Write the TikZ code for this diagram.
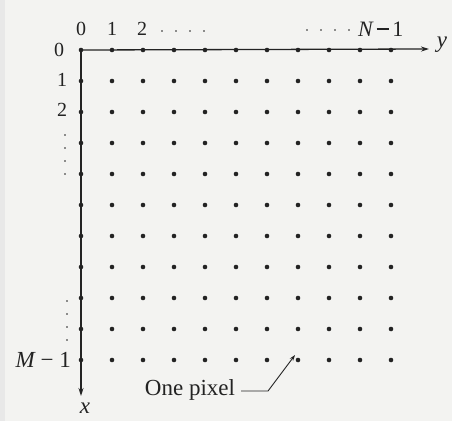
\documentclass[tikz,border=0pt]{standalone}
\usepackage{fontspec}
\setmainfont{Liberation Serif}
\usetikzlibrary{arrows.meta}
\definecolor{paper}{RGB}{243,243,241}
\definecolor{ink}{RGB}{35,35,35}
\tikzset{
  pix/.style={circle,fill=ink,inner sep=0pt,minimum size=4.6pt},
  lab/.style={text=ink,inner sep=0pt,font=\fontsize{20}{22}\selectfont},
  txt/.style={text=ink,inner sep=0pt,font=\fontsize{23}{25}\selectfont},
  axis/.style={draw=ink,line width=1.3pt,-{Stealth[length=8pt,width=5pt]}},
  edot/.style={circle,fill=ink,inner sep=0pt,minimum size=1.9pt}
}
\begin{document}
\begin{tikzpicture}[x=1pt,y=-1pt]
\fill[paper] (0,0) rectangle (452,421);
\fill[black!9] (0,0) rectangle (5,421);
\useasboundingbox (0,0) rectangle (452,421);
\coordinate (o) at (81,50);
\coordinate (yend) at (429,49);
\coordinate (xend) at (81,396);
\draw[axis] (o) -- (yend);
\draw[axis] (o) -- (xend);
\node[txt,font=\fontsize{23}{25}\selectfont\itshape] (ylab) at (442,45) {y};
\node[txt,font=\fontsize{23}{25}\selectfont\itshape] (xlab) at (85,408) {x};
\foreach \i in {0,...,10}{
  \foreach \j in {0,...,10}{
    \node[pix] (d-\i-\j) at ({81+31*\j},{50+31*\i}) {};
  }
}
% top labels
\node[lab] (t0) at (81,29) {0};
\node[lab] (t1) at (112,29) {1};
\node[lab] (t2) at (142,29) {2};
\foreach \k/\xx in {1/162,2/176,3/190,4/204}{\node[edot] (ta\k) at (\xx,31) {};}
\foreach \k/\xx in {1/307,2/321,3/335,4/349}{\node[edot] (tb\k) at (\xx,30) {};}
\node[lab,anchor=west,font=\fontsize{22}{24}\selectfont] (tN) at (358,29) {\itshape N\upshape\,\rule[0.27em]{0.55em}{0.1em}\,1};
% left labels
\node[lab] (l0) at (59,50) {0};
\node[lab] (l1) at (62,80) {1};
\node[lab] (l2) at (62,110) {2};
\foreach \k/\yy in {1/135,2/148,3/161,4/174}{\node[edot] (la\k) at (65,\yy) {};}
\foreach \k/\yy in {1/301,2/314,3/327,4/340}{\node[edot] (lb\k) at (67,\yy) {};}
\node[txt,anchor=east] (lM) at (71,360) {\itshape M\upshape\ \textminus\ 1};
% one pixel
\node[txt] (pixlab) at (190,390) {One pixel};
\coordinate (bend) at (268,391);
\draw[draw=ink,line width=0.9pt,-{Stealth[length=6pt,width=4pt]}] ([xshift=6pt]pixlab.east |- bend) -- (bend) -- ([shift={(-3pt,5pt)}]d-10-7.center);
\end{tikzpicture}
\end{document}
